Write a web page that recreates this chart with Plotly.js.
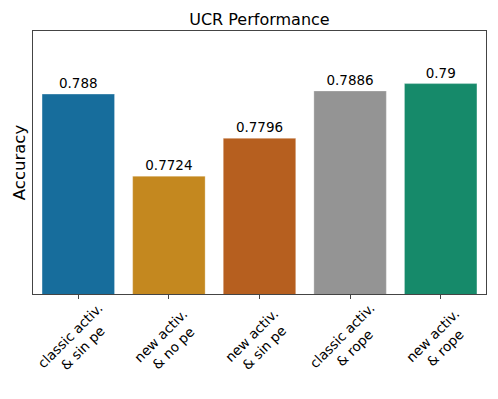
<!DOCTYPE html>
<html>
<head>
<meta charset="utf-8">
<script src="https://cdn.plot.ly/plotly-3.0.1.min.js"></script>
<style>
  html, body { margin: 0; padding: 0; background: #fff; }
  #chart { width: 498px; height: 399px; }
</style>
</head>
<body>
<div id="chart"></div>
<script>
var categories = [
  'classic activ.<br>& sin pe',
  'new activ.<br>& no pe',
  'new activ.<br>& sin pe',
  'classic activ.<br>& rope',
  'new activ.<br>& rope'
];
var accuracy = [0.788, 0.7724, 0.7796, 0.7886, 0.79];
var barLabels = ['0.788', '0.7724', '0.7796', '0.7886', '0.79'];
var barColors = ['#176d9c', '#c4881f', '#b65f1f', '#949494', '#168a6a'];

var trace = {
  x: categories,
  y: accuracy,
  type: 'bar',
  width: 0.8,
  text: barLabels,
  textposition: 'outside',
  cliponaxis: false,
  textfont: { family: 'DejaVu Sans', size: 13.5, color: '#000' },
  marker: { color: barColors, line: { color: 'rgba(255,255,255,0.5)', width: 0.6 } },
  hoverinfo: 'x+y'
};

// rotated, centre-aligned category labels (matplotlib style)
var tickNotes = categories.map(function(c) {
  return {
    xref: 'x', yref: 'paper',
    x: c, y: 0,
    yshift: -48, xshift: -2,
    text: c,
    textangle: -45,
    align: 'center',
    xanchor: 'center', yanchor: 'middle',
    showarrow: false,
    font: { family: 'DejaVu Sans', size: 13.5, color: '#000' }
  };
});

var layout = {
  width: 498,
  height: 399,
  paper_bgcolor: '#fff',
  plot_bgcolor: '#fff',
  font: { family: 'DejaVu Sans', color: '#000', size: 13.5 },
  margin: { t: 31, r: 12, b: 105, l: 33 },
  showlegend: false,
  title: {
    text: 'UCR Performance',
    font: { size: 16, color: '#000' },
    x: 0.521, xanchor: 'center',
    y: 0.952, yanchor: 'middle'
  },
  xaxis: {
    range: [-0.5, 4.5],
    showline: true, linecolor: '#444', linewidth: 1, mirror: true,
    ticks: 'outside', ticklen: 4, tickcolor: '#444', tickwidth: 1,
    showticklabels: false,
    showgrid: false, zeroline: false, automargin: false
  },
  yaxis: {
    range: [0.75, 0.80],
    showline: true, linecolor: '#444', linewidth: 1, mirror: true,
    showticklabels: false, ticks: '',
    showgrid: false, zeroline: false, automargin: false,
    title: { text: 'Accuracy', font: { size: 16.5, color: '#000' }, standoff: 2 }
  },
  annotations: tickNotes
};

Plotly.newPlot('chart', [trace], layout, { displayModeBar: false, staticPlot: true });
</script>
</body>
</html>
